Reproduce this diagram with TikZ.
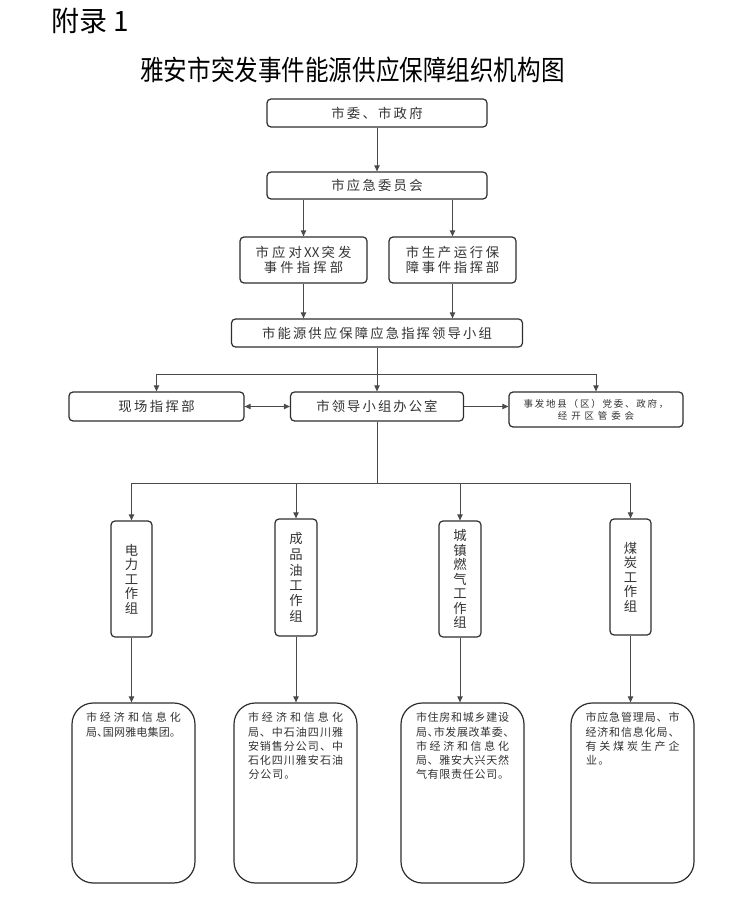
\documentclass[tikz,border=0pt]{standalone}
\usepackage{fontspec}
\setmainfont{Noto Sans CJK SC}
\newfontfamily\titlefont[FakeStretch=0.85]{Noto Sans CJK SC}
\usetikzlibrary{arrows.meta}
\definecolor{linc}{HTML}{4A4A4A}
\definecolor{bordc}{HTML}{2E2E2E}
\definecolor{txtc}{HTML}{333333}
\makeatletter
\newcommand\spc[2]{\@tfor\cjkc:=#2\do{\makebox[#1]{\cjkc}}}
\newcommand\jline[2]{\hbox to #1{\let\jsep\relax\@tfor\cjkc:=#2\do{\jsep\cjkc\let\jsep\hfill}}}
\makeatother
\newcommand\hp{\makebox[4.2pt][l]{、}}
\begin{document}
\begin{tikzpicture}[x=0.75pt,y=-0.75pt,
  box/.style={draw=bordc, line width=0.9pt, rounded corners=3pt, text=txtc, inner sep=0pt,
    font=\fontsize{10}{11.25}\selectfont, align=center},
  vb/.style={box, font=\fontsize{10}{10.9}\selectfont},
  bb/.style={draw=bordc, line width=0.9pt, rounded corners=16pt, text=txtc, inner xsep=0pt,
    inner ysep=7.1pt, minimum width=92.25pt, minimum height=135pt, font=\fontsize{8.25}{10.7}\selectfont},
  tip/.tip={Triangle[length=4.5pt,width=4pt]},
  ln/.style={draw=linc, line width=0.7pt},
  arr/.style={ln, -tip}]
\fill[white] (0,0) rectangle (755,905);
\useasboundingbox (0,0) rectangle (755,905);

\node[font=\fontsize{21}{21}\selectfont, anchor=west, inner sep=0pt] (fl) at (51,21) {附录 1};
\node[font=\titlefont\fontsize{20.8}{20.8}\selectfont, inner sep=0pt] (title) at (352.5,70) {雅安市突发事件能源供应保障组织机构图};

\node[box, minimum width=165pt, minimum height=21pt] (sw) at (377,113) {\spc{11.7pt}{市委、市政府}};
\node[box, minimum width=165pt, minimum height=20.25pt] (yj) at (377,185.5) {\spc{11.7pt}{市应急委员会}};
\node[box, minimum width=95.25pt, minimum height=34.5pt] (yd) at (303.5,260) {\spc{12.4pt}{市应对{XX}突发}\\\spc{12.4pt}{事件指挥部}};
\node[box, minimum width=95.25pt, minimum height=34.5pt] (sc) at (452.5,260) {\spc{12pt}{市生产运行保}\\\spc{12pt}{障事件指挥部}};
\node[box, minimum width=218.25pt, minimum height=21pt] (ny) at (377,333) {\spc{11.6pt}{市能源供应保障应急指挥领导小组}};
\node[box, minimum width=131.25pt, minimum height=21.75pt] (xc) at (156.5,406.5) {\spc{11.8pt}{现场指挥部}};
\node[box, minimum width=129.75pt, minimum height=21.75pt] (bg) at (377,406.5) {\spc{11.55pt}{市领导小组办公室}};
\node[box, minimum width=130.5pt, minimum height=26.25pt, font=\fontsize{7.1}{9}\selectfont] (sf) at (596,409.5) {\spc{8.45pt}{事发地县（区）党委、政府，}\\\spc{10pt}{经开区管委会}};

\node[vb, minimum width=30.75pt, minimum height=87pt] (dl) at (131.5,579) {电\\力\\工\\作\\组};
\node[vb, minimum width=31.5pt, minimum height=87.75pt] (cp) at (296,577.5) {\raisebox{-4pt}{\shortstack{成\\品\\油\\工\\作\\组}}};
\node[vb, minimum width=31.5pt, minimum height=87pt] (rq) at (460,579) {城\\镇\\燃\\气\\工\\作\\组};
\node[vb, minimum width=30.75pt, minimum height=87pt] (mt) at (630.5,577) {煤\\炭\\工\\作\\组};

\node[bb] (l1) at (133.5,793) {\vbox to 120.8pt{\jline{71.25pt}{市经济和信息化}\jline{71.25pt}{局{\hp}国网雅电集团。}\vfil}};
\node[bb] (l2) at (295.5,793) {\vbox to 120.8pt{\jline{71.25pt}{市经济和信息化}\jline{71.25pt}{局、中石油四川雅}\jline{71.25pt}{安销售分公司、中}\jline{71.25pt}{石化四川雅安石油}\hbox{\spc{9pt}{分公司。}}\vfil}};
\node[bb] (l3) at (462.5,793) {\vbox to 120.8pt{\jline{69.75pt}{市住房和城乡建设}\jline{69.75pt}{局{\hp}市发展改革委{\hp}}\jline{69.75pt}{市经济和信息化}\jline{69.75pt}{局、雅安大兴天然}\jline{69.75pt}{气有限责任公司。}\vfil}};
\node[bb] (l4) at (632.5,793) {\vbox to 120.8pt{\jline{70.5pt}{市应急管理局、市}\jline{70.5pt}{经济和信息化局、}\jline{70.5pt}{有关煤炭生产企}\hbox{\spc{9.2pt}{业。}}\vfil}};

\draw[arr] (sw) -- (yj);
\draw[arr] (yd.north |- yj.south) -- (yd.north);
\draw[arr] (sc.north |- yj.south) -- (sc.north);
\draw[arr] (yd.south) -- (yd.south |- ny.north);
\draw[arr] (sc.south) -- (sc.south |- ny.north);
\draw[arr] (ny.south) -- (bg.north);
\coordinate (j1) at (377,374);
\draw[arr] (j1) -| (xc.north);
\draw[arr] (j1) -| (sf.north);
\draw[ln, tip-tip] (xc.east) -- (bg.west);
\draw[arr] (bg.east) -- (bg.east -| sf.west);
\coordinate (j2) at (377,483);
\draw[ln] (bg.south) -- (j2);
\draw[arr] (j2) -| (dl.north);
\draw[arr] (j2) -| (cp.north);
\draw[arr] (j2) -| (rq.north);
\draw[arr] (j2) -| (mt.north);
\draw[arr] (dl.south) -- (dl.south |- l1.north);
\draw[arr] (cp.south) -- (cp.south |- l2.north);
\draw[arr] (rq.south) -- (rq.south |- l3.north);
\draw[arr] (mt.south) -- (mt.south |- l4.north);
\end{tikzpicture}
\end{document}
